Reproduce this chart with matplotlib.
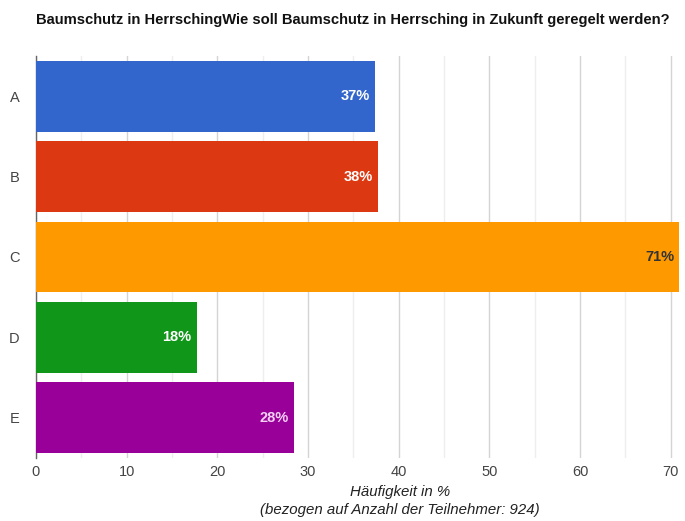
import matplotlib.pyplot as plt
import numpy as np

plt.rcParams['font.family'] = ['Liberation Sans', 'DejaVu Sans']

antworten = ['A', 'B', 'C', 'D', 'E']
anteile = [37.4, 37.7, 70.9, 17.7, 28.4]
farben = ['#3366CC', '#DC3912', '#FF9900', '#109618', '#990099']
label_farben = ['white', 'white', '#333333', 'white', '#f4d0f4']

W, H = 685, 521
fig = plt.figure(figsize=(W / 100, H / 100), dpi=100)
x0, x1 = 36, 679
y0, y1 = 56, 458
ax = fig.add_axes([x0 / W, 1 - y1 / H, (x1 - x0) / W, (y1 - y0) / H])

y = np.arange(len(antworten))
ax.barh(y, anteile, height=0.88, color=farben, zorder=3)
ax.set_ylim(len(antworten) - 0.5, -0.5)
ax.set_xlim(0, 70.9)

for yi, v, c in zip(y, anteile, label_farben):
    ax.text(v - 0.55, yi, f"{v:.0f}%", ha='right', va='center', color=c,
            fontsize=10.5, fontweight='bold', zorder=4)

# gitter: 10er linien kraeftiger, 5er linien hell
ax.set_xticks(np.arange(0, 71, 10))
ax.set_xticks(np.arange(5, 71, 10), minor=True)
ax.grid(axis='x', which='major', color='#d4d4d4', linewidth=1, zorder=0)
ax.grid(axis='x', which='minor', color='#eeeeee', linewidth=1, zorder=0)
ax.tick_params(axis='both', which='both', length=0, labelsize=10.5, colors='#444444')
ax.tick_params(axis='x', pad=5)
ax.tick_params(axis='y', pad=12)
ax.set_yticks(y)
ax.set_yticklabels(antworten)
for s in ['top', 'right', 'bottom']:
    ax.spines[s].set_visible(False)
ax.spines['left'].set_color('#666666')
ax.spines['left'].set_linewidth(1)

fig.text(36 / W, 1 - 20 / H,
         'Baumschutz in HerrschingWie soll Baumschutz in Herrsching in Zukunft geregelt werden?',
         ha='left', va='center', fontsize=10.6, fontweight='bold', color='#111111')
fig.text(400 / W, 1 - 492 / H, 'Häufigkeit in %', ha='center', va='center',
         fontsize=10.8, style='italic', color='#222222')
fig.text(400 / W, 1 - 510 / H, '(bezogen auf Anzahl der Teilnehmer: 924)', ha='center',
         va='center', fontsize=10.8, style='italic', color='#222222')

fig.savefig('out.png', dpi=100)
